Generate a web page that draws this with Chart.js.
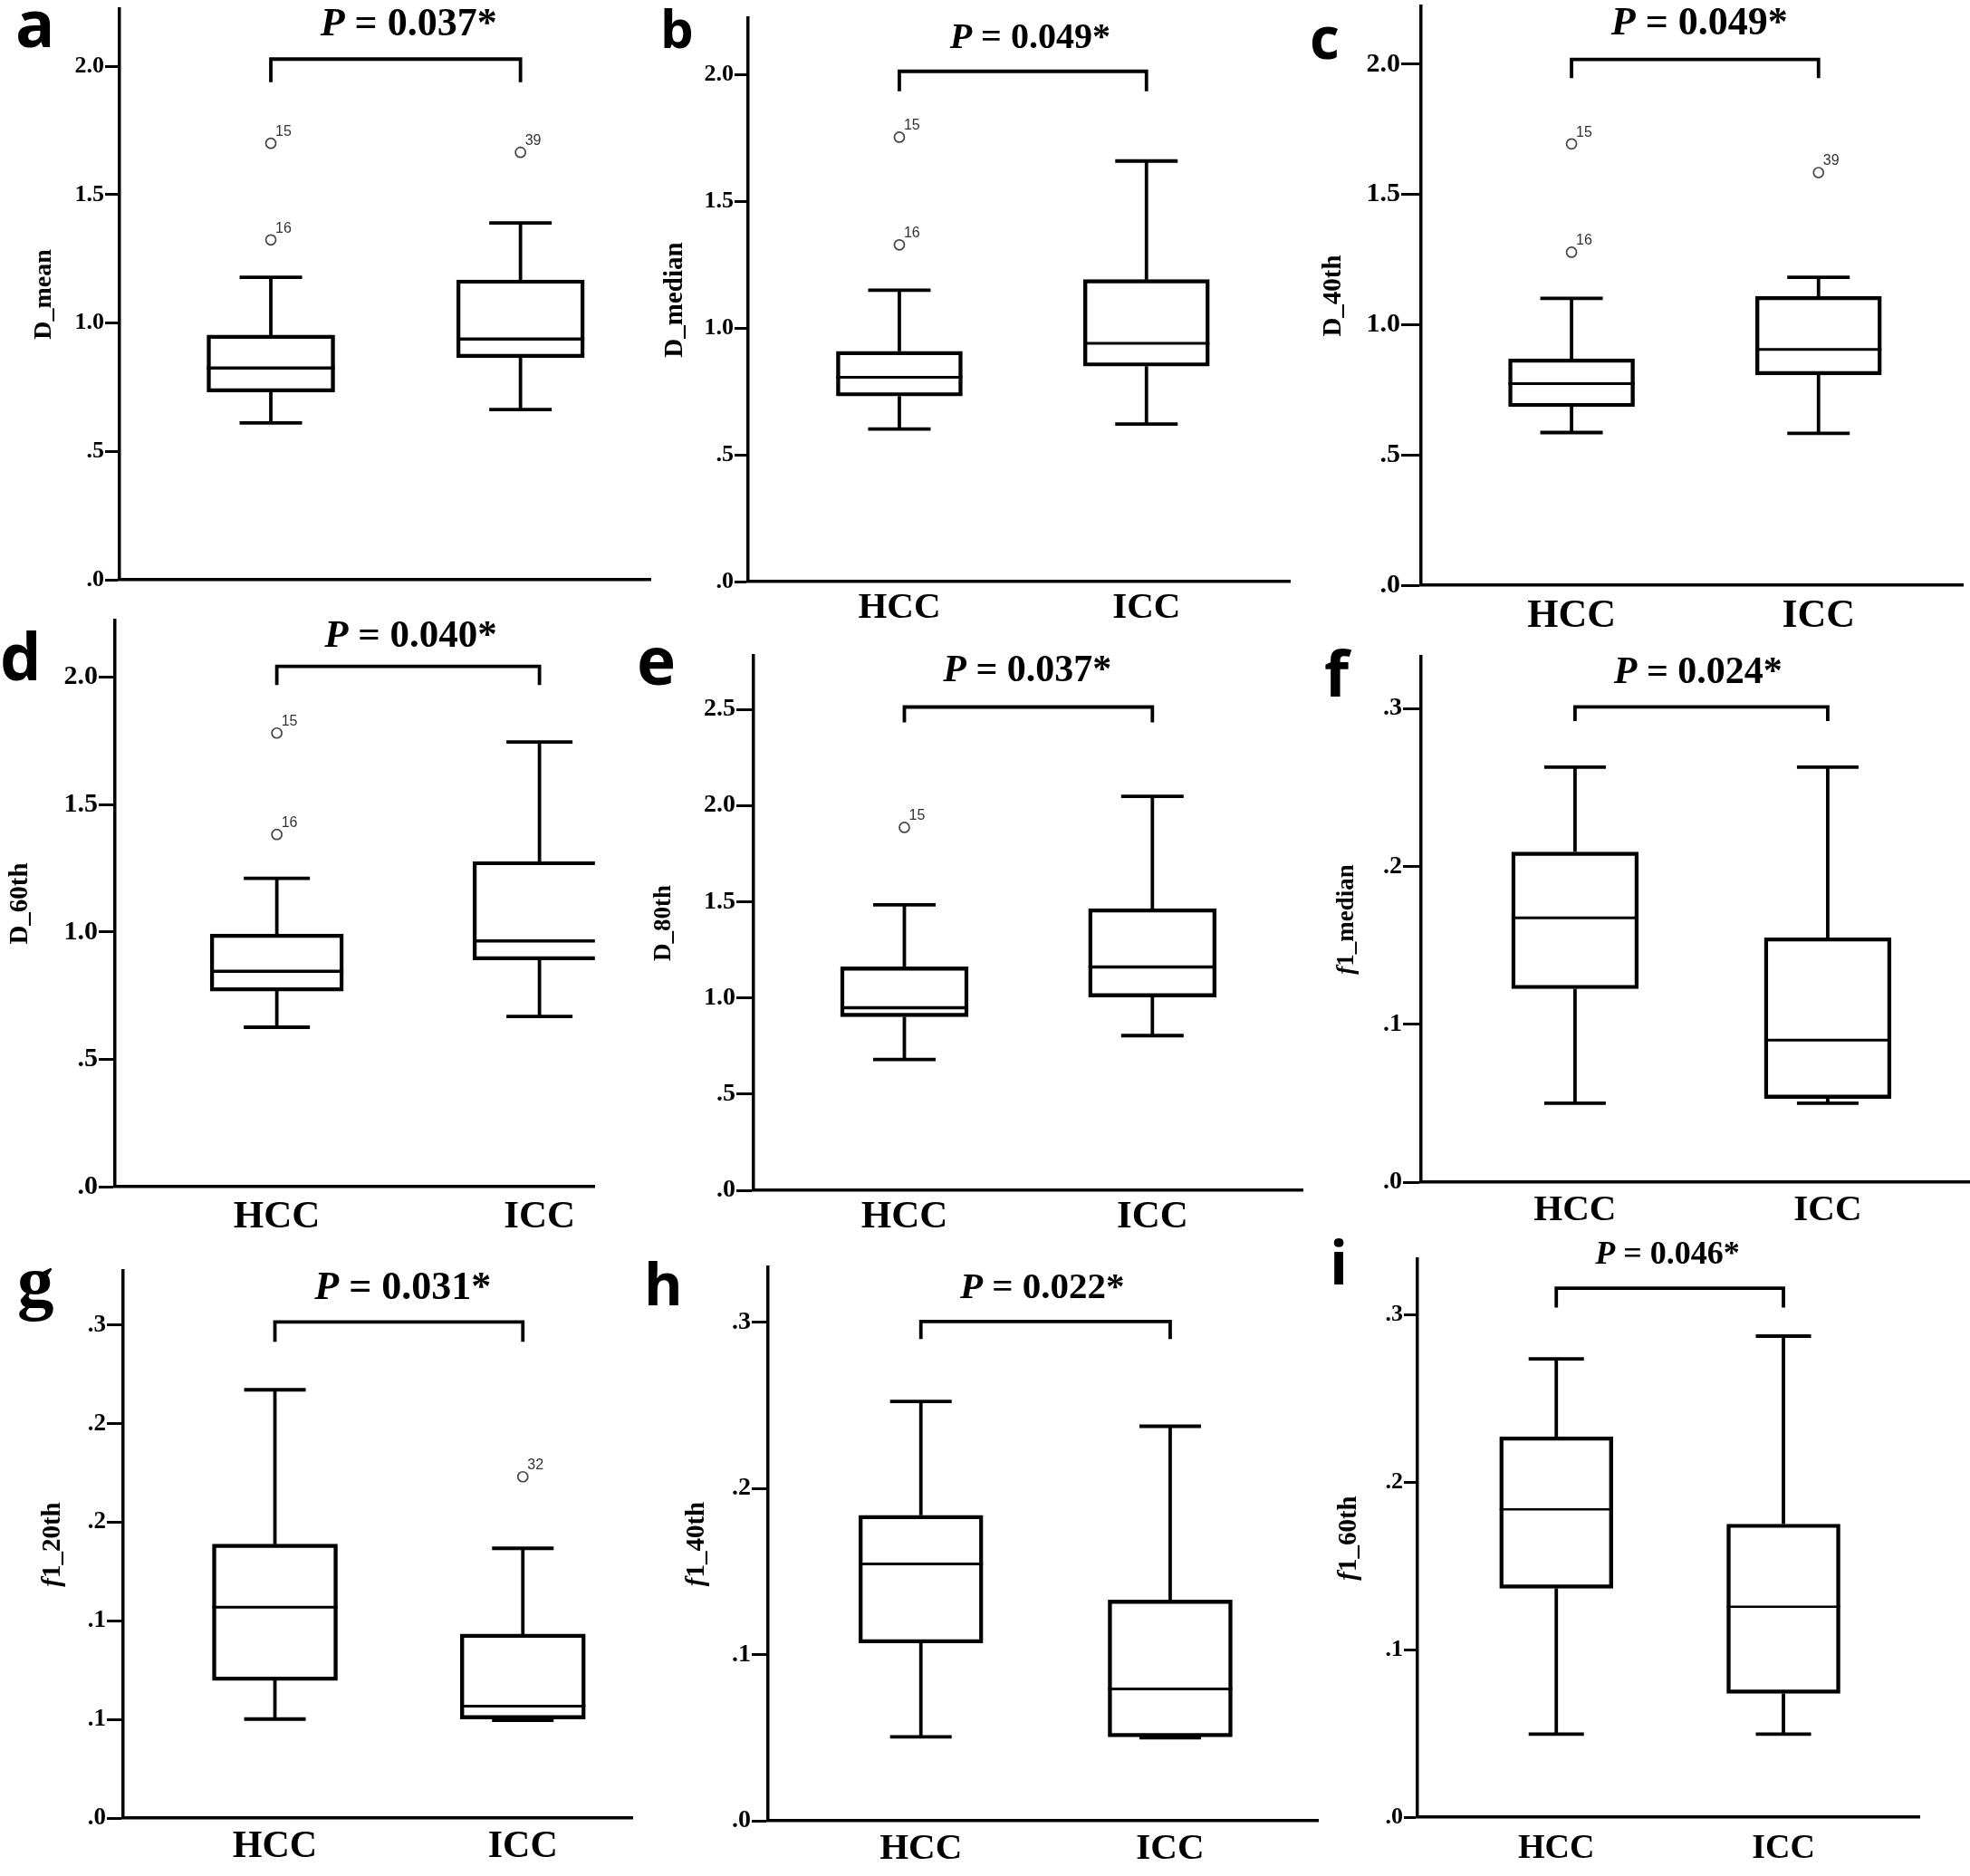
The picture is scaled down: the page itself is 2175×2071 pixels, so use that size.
<!DOCTYPE html>
<html><head><meta charset="utf-8">
<script src="https://cdn.jsdelivr.net/npm/chart.js@4.4.1/dist/chart.umd.min.js"></script>
<style>
html,body{margin:0;padding:0;background:#fff;}
body{width:2175px;height:2071px;position:relative;overflow:hidden;}
.pc{position:absolute;}
.lt{position:absolute;font-weight:700;line-height:1;color:#000;white-space:nowrap;}
</style></head><body>
<script>
// ---------------- DATA ----------------
const groups = ['HCC', 'ICC'];
const panelLetters = ['a','b','c','d','e','f','g','h','i'];
const yTitles = ['D_mean','D_median','D_40th','D_60th','D_80th','f1_median','f1_20th','f1_40th','f1_60th'];
const pValues = ['0.037*','0.049*','0.049*','0.040*','0.037*','0.024*','0.031*','0.022*','0.046*'];

// box statistics per panel (a..i)
const hccLow    = [0.611, 0.602, 0.586, 0.626, 0.680, 0.050, 0.0502, 0.0505, 0.0496];
const hccQ1     = [0.731, 0.732, 0.685, 0.768, 0.902, 0.1225, 0.0698, 0.1070, 0.1367];
const hccMedian = [0.825, 0.806, 0.774, 0.846, 0.949, 0.1674, 0.1069, 0.1546, 0.1839];
const hccQ3     = [0.953, 0.909, 0.869, 0.992, 1.161, 0.2091, 0.1389, 0.1839, 0.2273];
const hccHigh   = [1.178, 1.150, 1.101, 1.211, 1.484, 0.2629, 0.2172, 0.2524, 0.2738];

const iccLow    = [0.663, 0.622, 0.583, 0.668, 0.804, 0.050, 0.0496, 0.0500, 0.0496];
const iccQ1     = [0.865, 0.850, 0.807, 0.890, 1.005, 0.0530, 0.0502, 0.0505, 0.0739];
const iccMedian = [0.938, 0.940, 0.905, 0.965, 1.161, 0.0899, 0.0567, 0.0793, 0.1257];
const iccQ3     = [1.168, 1.192, 1.109, 1.277, 1.464, 0.1548, 0.0933, 0.1329, 0.1751];
const iccHigh   = [1.390, 1.660, 1.182, 1.746, 2.048, 0.2629, 0.1368, 0.2375, 0.2874];

const hccOutliers   = [[1.700, 1.324], [1.754, 1.329], [1.694, 1.278], [1.781, 1.383], [1.886], [], [], [], []];
const hccOutlierIds = [['15','16'], ['15','16'], ['15','16'], ['15','16'], ['15'], [], [], [], []];
const iccOutliers   = [[1.665], [], [1.584], [], [], [], [0.1731], [], []];
const iccOutlierIds = [['39'], [], ['39'], [], [], [], ['32'], [], []];

// y tick values / labels
const yTicksD      = [0, 0.5, 1.0, 1.5, 2.0];
const yTickLabelsD = ['.0', '.5', '1.0', '1.5', '2.0'];
const yTicksD80      = [0, 0.5, 1.0, 1.5, 2.0, 2.5];
const yTickLabelsD80 = ['.0', '.5', '1.0', '1.5', '2.0', '2.5'];
const yTicksF      = [0, 0.1, 0.2, 0.3];
const yTickLabelsF = ['.0', '.1', '.2', '.3'];
const yTicksF20      = [0, 0.05, 0.10, 0.15, 0.20, 0.25];
const yTickLabelsF20 = ['.0', '.1', '.1', '.2', '.2', '.3'];
const panelTickValues = [yTicksD, yTicksD, yTicksD, yTicksD, yTicksD80, yTicksF, yTicksF20, yTicksF, yTicksF];
const panelTickLabels = [yTickLabelsD, yTickLabelsD, yTickLabelsD, yTickLabelsD, yTickLabelsD80, yTickLabelsF, yTickLabelsF20, yTickLabelsF, yTickLabelsF];
const yAxisMax = [2.223, 2.224, 2.222, 2.223, 2.778, 0.3328, 0.2775, 0.3332, 0.3334];

// significance bracket (data units)
const bracketTop = [2.028, 2.014, 2.018, 2.043, 2.512, 0.301, 0.2516, 0.3005, 0.316];
const bracketEnd = [1.938, 1.935, 1.946, 1.970, 2.432, 0.292, 0.2415, 0.290, 0.3045];

// ---------------- LAYOUT / STYLE ----------------
const layout = [
 {L:132,  R:726,  T:9.5,   B:639.6, xMin:0.394,xMax:2.523,tickLen:16,tickFont:26,titleOff:83.5,titleFont:28,xFont:41,xPad:5, showX:false,pFont:44,pX:1.552,pY:2.173,boxW:141,capW:69,medW:3.5},
 {L:826,  R:1432, T:19.8,  B:641.3, xMin:0.388,xMax:2.583,tickLen:15,tickFont:26,titleOff:80,  titleFont:29,xFont:41,xPad:5, showX:true, pFont:40,pX:1.529,pY:2.153,boxW:139,capW:69,medW:3},
 {L:1569, R:2175, T:6.6,   B:646,   xMin:0.391,xMax:2.587,tickLen:22,tickFont:30,titleOff:96,  titleFont:29,xFont:44,xPad:8, showX:true, pFont:44,pX:1.518,pY:2.164,boxW:139,capW:69,medW:3},
 {L:127,  R:664,  T:685,   B:1309.5,xMin:0.384,xMax:2.211,tickLen:18,tickFont:30,titleOff:104, titleFont:29,xFont:43,xPad:8, showX:true, pFont:43,pX:1.510,pY:2.171,boxW:147,capW:73,medW:3.5},
 {L:832,  R:1446, T:724.3, B:1314,  xMin:0.392,xMax:2.608,tickLen:19,tickFont:28,titleOff:99,  titleFont:27,xFont:43,xPad:4, showX:true, pFont:42,pX:1.496,pY:2.711,boxW:141,capW:69,medW:3.5},
 {L:1569, R:2175, T:725.2, B:1305.3,xMin:0.391,xMax:2.563,tickLen:20,tickFont:28,titleOff:82,  titleFont:27,xFont:41,xPad:7, showX:true, pFont:42,pX:1.487,pY:0.324,boxW:140,capW:68,medW:3},
 {L:135.5,R:705,  T:1403,  B:2007,  xMin:0.388,xMax:2.444,tickLen:18,tickFont:27,titleOff:77.5,titleFont:29,xFont:42,xPad:7, showX:true, pFont:44,pX:1.516,pY:0.2699,boxW:138,capW:68,medW:3},
 {L:847.5,R:1455, T:1398.5,B:2009,  xMin:0.387,xMax:2.596,tickLen:18,tickFont:28,titleOff:78.5,titleFont:29,xFont:41,xPad:7, showX:true, pFont:41,pX:1.487,pY:0.3223,boxW:137,capW:68,medW:3},
 {L:1564.7,R:2120,T:1389.7,B:2005.8,xMin:0.389,xMax:2.602,tickLen:15,tickFont:26,titleOff:75.7,titleFont:29,xFont:38,xPad:12,showX:true, pFont:36,pX:1.49, pY:0.337,boxW:125,capW:61,medW:2.5}
];
const letterStyle = [
 {left:17,  top:-12, size:72, fam:"'Open Sans', sans-serif"},
 {left:729, top:2,   size:58, fam:"'Open Sans', sans-serif"},
 {left:1446,top:9,   size:64, fam:"'Open Sans', sans-serif"},
 {left:0,   top:687, size:72, fam:"'Open Sans', sans-serif"},
 {left:703, top:691, size:73, fam:"'Open Sans', sans-serif"},
 {left:1462,top:707, size:70, fam:"'Open Sans', sans-serif"},
 {left:19,  top:1375,size:81, fam:"'Liberation Serif', serif"},
 {left:711, top:1384,size:65, fam:"'Open Sans', sans-serif"},
 {left:1468,top:1359,size:66, fam:"'Open Sans', sans-serif"}
];
const SERIF = "'Liberation Serif', 'Times New Roman', serif";
const WY = 130, PT = 45, HX = 75;

// ---------------- PLUGIN ----------------
const partsPlugin = {
  id: 'parts',
  afterDatasetsDraw(chart, args, opts) {
    const k = opts.k, S = layout[k];
    const xs = chart.scales.x, ys = chart.scales.y, ctx = chart.ctx, A = chart.chartArea;
    const stats = [
      [hccLow[k], hccQ1[k], hccMedian[k], hccQ3[k], hccHigh[k]],
      [iccLow[k], iccQ1[k], iccMedian[k], iccQ3[k], iccHigh[k]]
    ];
    ctx.save();
    ctx.beginPath();
    ctx.rect(A.left, A.top - 10, A.right - A.left, A.bottom - A.top + 10);
    ctx.clip();
    ctx.strokeStyle = '#000';
    ctx.lineCap = 'butt';
    stats.forEach((s, g) => {
      const cx = xs.getPixelForValue(g + 1);
      const yl = ys.getPixelForValue(s[0]), y1 = ys.getPixelForValue(s[1]),
            ym = ys.getPixelForValue(s[2]), y3 = ys.getPixelForValue(s[3]),
            yh = ys.getPixelForValue(s[4]);
      ctx.lineWidth = 3.8;
      ctx.beginPath();
      ctx.moveTo(cx, y3); ctx.lineTo(cx, yh);
      ctx.moveTo(cx, y1); ctx.lineTo(cx, yl);
      ctx.moveTo(cx - S.capW / 2, yh); ctx.lineTo(cx + S.capW / 2, yh);
      ctx.moveTo(cx - S.capW / 2, yl); ctx.lineTo(cx + S.capW / 2, yl);
      ctx.stroke();
      ctx.lineWidth = S.medW;
      ctx.beginPath();
      ctx.moveTo(cx - S.boxW / 2, ym); ctx.lineTo(cx + S.boxW / 2, ym);
      ctx.stroke();
    });
    ctx.restore();

    // outlier case labels
    ctx.save();
    ctx.fillStyle = '#333';
    ctx.font = "16px 'Liberation Sans', Arial, sans-serif";
    ctx.textAlign = 'left';
    ctx.textBaseline = 'alphabetic';
    [[hccOutliers[k], hccOutlierIds[k], 1], [iccOutliers[k], iccOutlierIds[k], 2]].forEach(([vals, ids, xv]) => {
      vals.forEach((v, j) => {
        const px = xs.getPixelForValue(xv), py = ys.getPixelForValue(v);
        ctx.fillText(ids[j], px + 5, py - 8);
      });
    });
    ctx.restore();

    // bracket
    ctx.save();
    const bx1 = xs.getPixelForValue(1), bx2 = xs.getPixelForValue(2);
    const byT = ys.getPixelForValue(bracketTop[k]), byE = ys.getPixelForValue(bracketEnd[k]);
    ctx.strokeStyle = '#000';
    ctx.lineWidth = 3.8;
    ctx.lineJoin = 'miter';
    ctx.beginPath();
    ctx.moveTo(bx1, byE); ctx.lineTo(bx1, byT); ctx.lineTo(bx2, byT); ctx.lineTo(bx2, byE);
    ctx.stroke();

    // P value text
    const fz = S.pFont;
    const fP = 'italic 700 ' + fz + 'px ' + SERIF;
    const fR = '700 ' + fz + 'px ' + SERIF;
    const rest = ' = ' + pValues[k];
    ctx.font = fP; const wP = ctx.measureText('P').width;
    ctx.font = fR; const wR = ctx.measureText(rest).width;
    const cxP = xs.getPixelForValue(S.pX);
    const base = ys.getPixelForValue(S.pY) + 0.331 * fz;
    let sx = cxP - (wP + wR) / 2;
    ctx.fillStyle = '#000';
    ctx.textAlign = 'left';
    ctx.textBaseline = 'alphabetic';
    ctx.font = fP; ctx.fillText('P', sx, base);
    ctx.font = fR; ctx.fillText(rest, sx + wP, base);

    // y-axis title (rotated, italic leading f for f1_*)
    const title = yTitles[k];
    const segs = title.startsWith('f') ? [['f', 'italic 700 '], [title.slice(1), '700 ']] : [[title, '700 ']];
    ctx.translate(A.left - S.titleOff, (A.top + A.bottom) / 2);
    ctx.rotate(-Math.PI / 2);
    ctx.textBaseline = 'middle';
    let tw = 0;
    segs.forEach(sg => { ctx.font = sg[1] + S.titleFont + 'px ' + SERIF; tw += ctx.measureText(sg[0]).width; });
    let tx = -tw / 2;
    segs.forEach(sg => { ctx.font = sg[1] + S.titleFont + 'px ' + SERIF; ctx.fillText(sg[0], tx, 0); tx += ctx.measureText(sg[0]).width; });
    ctx.restore();
  }
};

// ---------------- BUILD PANELS ----------------
for (let k = 0; k < 9; k++) {
  const S = layout[k];
  const W = Math.round(S.R - S.L + WY);
  const H = Math.round(S.B - S.T + PT + HX);
  const div = document.createElement('div');
  div.className = 'pc';
  div.style.left = (S.L - WY) + 'px';
  div.style.top = (S.T - PT) + 'px';
  div.style.width = W + 'px';
  div.style.height = H + 'px';
  const cv = document.createElement('canvas');
  cv.width = W; cv.height = H;
  cv.style.width = W + 'px'; cv.style.height = H + 'px';
  div.appendChild(cv);
  document.body.appendChild(div);

  const boxData = [
    {x: 1, y: [hccQ1[k], hccQ3[k]]},
    {x: 2, y: [iccQ1[k], iccQ3[k]]}
  ];
  const outData = [];
  hccOutliers[k].forEach(v => outData.push({x: 1, y: v}));
  iccOutliers[k].forEach(v => outData.push({x: 2, y: v}));
  const tv = panelTickValues[k], tl = panelTickLabels[k];

  new Chart(cv, {
    type: 'bar',
    data: {
      datasets: [
        {type: 'bar', data: boxData, backgroundColor: 'rgba(255,255,255,0)', borderColor: '#000',
         borderWidth: 3.8, borderSkipped: false, barThickness: S.boxW, clip: 0},
        {type: 'scatter', data: outData, pointStyle: 'circle', pointRadius: 5.5, pointBorderWidth: 1.7,
         pointBorderColor: '#444', pointBackgroundColor: '#fff', showLine: false, clip: false}
      ]
    },
    options: {
      responsive: false,
      animation: false,
      events: [],
      layout: {padding: {top: PT, left: 0, right: 0, bottom: 0}},
      plugins: {legend: {display: false}, tooltip: {enabled: false}, parts: {k: k}},
      scales: {
        x: {
          type: 'linear', min: S.xMin, max: S.xMax, offset: false,
          afterBuildTicks: s => { s.ticks = [{value: 1}, {value: 2}]; },
          afterFit: s => { s.height = HX; },
          grid: {display: false, drawTicks: false, tickLength: 0},
          border: {display: true, color: '#000', width: 3.5},
          ticks: {display: S.showX, autoSkip: false, maxRotation: 0, padding: S.xPad, color: '#000',
                  font: {family: SERIF, weight: 'bold', size: S.xFont},
                  callback: (v, i) => groups[i]}
        },
        y: {
          type: 'linear', min: 0, max: yAxisMax[k],
          afterBuildTicks: s => { s.ticks = tv.map(v => ({value: v})); },
          afterFit: s => { s.width = WY; },
          grid: {display: true, drawOnChartArea: false, drawTicks: true, tickLength: S.tickLen,
                 tickWidth: 3, tickColor: '#000', color: '#000'},
          border: {display: true, color: '#000', width: 3.5},
          ticks: {autoSkip: false, padding: 1, color: '#000',
                  font: {family: SERIF, weight: 'bold', size: S.tickFont},
                  callback: (v, i) => tl[i]}
        }
      }
    },
    plugins: [partsPlugin]
  });
}

// panel letters
panelLetters.forEach((t, k) => {
  const st = letterStyle[k];
  const d = document.createElement('div');
  d.className = 'lt';
  d.textContent = t;
  d.style.left = st.left + 'px';
  d.style.top = st.top + 'px';
  d.style.fontSize = st.size + 'px';
  d.style.fontFamily = st.fam;
  document.body.appendChild(d);
});
</script>
</body></html>
